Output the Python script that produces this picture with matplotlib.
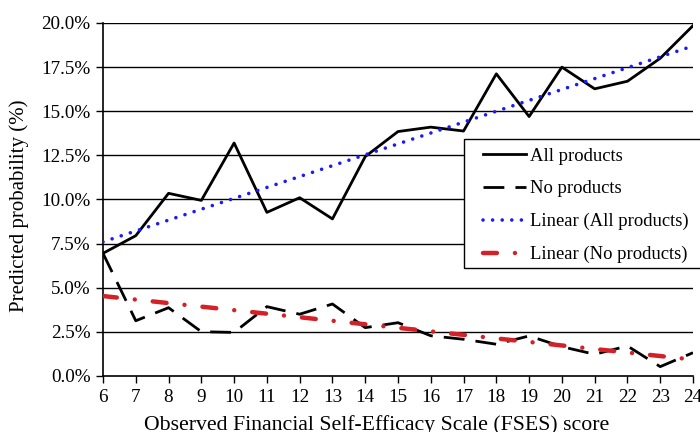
import matplotlib
matplotlib.use("Agg")
import matplotlib.pyplot as plt
from matplotlib.ticker import FuncFormatter, MultipleLocator
from matplotlib.patches import Rectangle

plt.rcParams['font.family'] = ['Liberation Serif', 'DejaVu Serif']
plt.rcParams['lines.scale_dashes'] = False

scores = list(range(6, 25))
all_products = [6.95, 7.95, 10.35, 9.95, 13.2, 9.27, 10.1, 8.9, 12.43, 13.85,
                14.1, 13.88, 17.12, 14.7, 17.5, 16.27, 16.7, 18.0, 19.85]
no_products = [6.95, 3.13, 3.87, 2.51, 2.47, 3.93, 3.5, 4.08, 2.74, 3.02,
               2.28, 2.08, 1.8, 2.27, 1.66, 1.23, 1.7, 0.53, 1.32]
trend_x = [6, 24]
linear_all = [7.6, 18.7]
linear_no = [4.53, 0.93]

W, H = 700, 432
fig = plt.figure(figsize=(7.0, 4.32), dpi=100)
ax = fig.add_axes([103/W, 56/H, 590/W, 353/H])

for y in [2.5, 5, 7.5, 10, 12.5, 15, 17.5, 20]:
    ax.axhline(y, color='black', lw=1.0, zorder=1)

ax.plot(scores, all_products, color='black', lw=2.0, label='All products', zorder=3)
ax.plot(scores, no_products, color='black', lw=2.0, dashes=(15, 8), label='No products', zorder=3)
ax.plot(trend_x, linear_all, color='#1a1aff', lw=2.6, dashes=(0.01, 6.9),
        dash_capstyle='round', label='Linear (All products)', zorder=4)
ax.plot(trend_x, linear_no, color='#d42027', lw=3.2, dashes=(10, 13, 0.01, 13),
        dash_capstyle='round', label='Linear (No products)', zorder=4)

ax.set_xlim(6, 24)
ax.set_ylim(0, 20)
ax.xaxis.set_major_locator(MultipleLocator(1))
ax.yaxis.set_major_locator(MultipleLocator(2.5))
ax.yaxis.set_major_formatter(FuncFormatter(lambda v, p: f"{v:.1f}%"))
for s in ['top', 'right']:
    ax.spines[s].set_visible(False)
for s in ['left', 'bottom']:
    ax.spines[s].set_linewidth(1.2)
    ax.spines[s].set_color('black')
ax.tick_params(axis='both', direction='out', length=5, width=1.0, labelsize=13.8,
               color='black', pad=4)
ax.set_xlabel('Observed Financial Self-Efficacy Scale (FSES) score', fontsize=15.7)
ax.xaxis.set_label_coords(0.4636, -0.11)
ax.set_ylabel('Predicted probability (%)', fontsize=15)
ax.yaxis.set_label_coords(-0.125, 0.4816)

# legend frame (box runs past right edge as in the reference)
fig.patches.append(Rectangle((464/W, 1 - 268/H), 245/W, 129/H, transform=fig.transFigure,
                             facecolor='white', edgecolor='black', lw=1.0, zorder=5))
leg = fig.legend(loc='upper left', bbox_to_anchor=(483/W, 1 - 147.5/H), borderaxespad=0,
                 fontsize=13.4, handlelength=2.3, handletextpad=0.2, labelspacing=0.84,
                 frameon=False, borderpad=0)
leg.set_zorder(6)

fig.savefig('out.png', dpi=100)
